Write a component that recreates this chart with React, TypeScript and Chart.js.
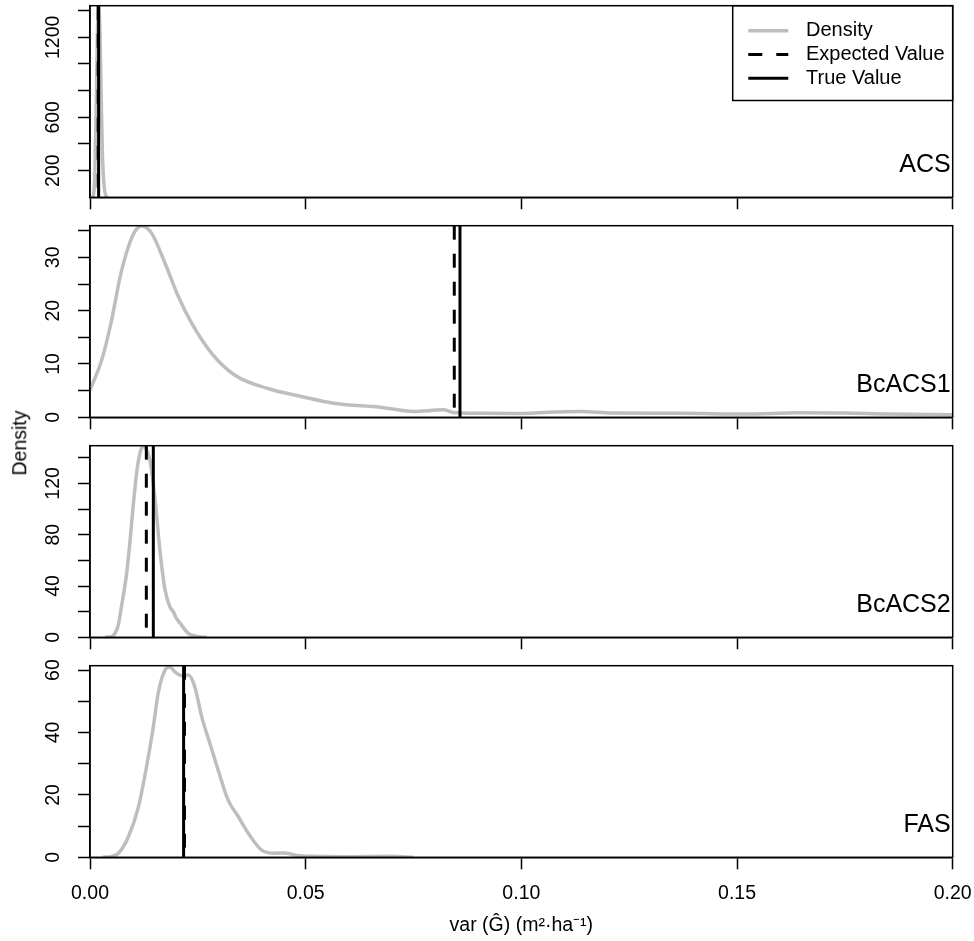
import React, { useEffect, useRef } from 'react';
import { Chart, registerables } from 'chart.js';

Chart.register(...registerables);

const FONT = '"Liberation Sans", Arial, Helvetica, sans-serif';
const TICK_SIZE = 19.5;
const LEGEND_SIZE = 20;
const PANEL_LABEL_SIZE = 25;

// ---------- data ----------
const panelNames = ['ACS', 'BcACS1', 'BcACS2', 'FAS'];
const legendLabels = ['Density', 'Expected Value', 'True Value'];
const xMin = 0;
const xMax = 0.2;
const xTickValues = [0, 0.05, 0.1, 0.15, 0.2];
const xTitle = 'var (Ĝ) (m²·ha⁻¹)';
const yTitle = 'Density';

const acsX = [0.0005, 0.0008, 0.0011, 0.0014, 0.0017, 0.0020, 0.0023, 0.0026, 0.0029, 0.0033, 0.0037, 0.0042];
const acsY = [0, 20, 150, 600, 1200, 1437, 1250, 750, 300, 80, 10, 0];

const bcacs1X = [0.0000, 0.0027, 0.0050, 0.0070, 0.0089, 0.0105, 0.0120, 0.0143, 0.0174, 0.0205, 0.0236, 0.0282, 0.0336, 0.0413, 0.0490, 0.0568, 0.0672, 0.0750, 0.0819, 0.0842, 0.0904, 0.0980, 0.1080, 0.1140, 0.1210, 0.1370, 0.1520, 0.1640, 0.1750, 0.1850, 0.2000];
const bcacs1Y = [5.1, 10.7, 18.2, 26.4, 32.0, 35.0, 35.9, 34.5, 28.9, 22.6, 17.6, 12.0, 7.9, 5.4, 3.9, 2.6, 1.9, 1.1, 1.4, 0.9, 0.75, 0.7, 1.0, 1.1, 0.8, 0.75, 0.6, 0.85, 0.8, 0.6, 0.5];

const bcacs2X = [0.0035, 0.0050, 0.0058, 0.0066, 0.0073, 0.0085, 0.0093, 0.0100, 0.0108, 0.0116, 0.0124, 0.0130, 0.0139, 0.0151, 0.0162, 0.0174, 0.0185, 0.0193, 0.0200, 0.0209, 0.0228, 0.0251, 0.0270];
const bcacs2Y = [0, 0.5, 3, 10, 24, 50, 76, 102, 128, 144, 149, 147, 138, 107, 68, 37, 24, 20, 15, 11, 3, 0.5, 0];

const fasX = [0.0030, 0.0050, 0.0066, 0.0089, 0.0112, 0.0131, 0.0147, 0.0158, 0.0174, 0.0185, 0.0197, 0.0213, 0.0228, 0.0243, 0.0259, 0.0278, 0.0297, 0.0320, 0.0344, 0.0367, 0.0398, 0.0429, 0.0450, 0.0480, 0.0520, 0.0600, 0.0700, 0.0750];
const fasY = [0, 0.3, 1.3, 6.6, 16, 29, 42, 52.5, 60, 61, 59.4, 58.2, 58.4, 54.6, 45, 36.5, 28, 18.4, 13, 7.7, 2.3, 1.3, 1.4, 0.6, 0.3, 0.2, 0.3, 0];

const densityX = [acsX, bcacs1X, bcacs2X, fasX];
const densityY = [acsY, bcacs1Y, bcacs2Y, fasY];

const expectedValues = [0.0019, 0.08445, 0.01306, 0.0219];
const trueValues = [0.0020, 0.08577, 0.01468, 0.0217];

const yMaxes = [1437, 35.94, 149.4, 61.4];
const acsYTicks = [200, 400, 600, 800, 1000, 1200, 1400];
const bcacs1YTicks = [0, 5, 10, 15, 20, 25, 30, 35];
const bcacs2YTicks = [0, 20, 40, 60, 80, 100, 120, 140];
const fasYTicks = [0, 10, 20, 30, 40, 50, 60];
const yTickValues = [acsYTicks, bcacs1YTicks, bcacs2YTicks, fasYTicks];
const yLabelled = [[200, 600, 1200], [0, 10, 20, 30], [0, 40, 80, 120], [0, 20, 40, 60]];

// ---------- styling / layout ----------
const DENSITY_COLOR = '#bebebe';
const PANEL_STEP = 220;
const AREA_TOP = 5.7;
const AREA_BOTTOM = 197.3;
const AREA_LEFT = 90;
const AREA_RIGHT = 952.7;
const PAGE_W = 974;
const PAGE_H = 941;
const TICK_LEN = 12;
const LABEL_CENTER_X = 54;

const decorPlugin = {
  id: 'decor',
  afterDraw(chart: any, _args: any, opts: any) {
    const ctx = chart.ctx;
    const ca = chart.chartArea;
    ctx.save();
    ctx.strokeStyle = '#000';
    ctx.lineWidth = 1.5;
    ctx.setLineDash([]);
    ctx.strokeRect(ca.left, ca.top, ca.right - ca.left, ca.bottom - ca.top);
    ctx.fillStyle = '#000';
    ctx.font = `${PANEL_LABEL_SIZE}px ${FONT}`;
    ctx.textAlign = 'right';
    ctx.textBaseline = 'alphabetic';
    ctx.fillText(opts.label, ca.right - 2, ca.bottom - 25);
    if (opts.legend) {
      const boxLeft = ca.right - 220;
      const boxBottom = ca.top + 94.8;
      ctx.strokeRect(boxLeft, ca.top, ca.right - boxLeft, boxBottom - ca.top);
      chart.data.datasets.forEach((ds: any, i: number) => {
        const y = ca.top + 25 + i * 23.8;
        ctx.beginPath();
        ctx.strokeStyle = ds.borderColor;
        ctx.lineWidth = ds.borderWidth;
        ctx.setLineDash(ds.borderDash || []);
        ctx.moveTo(boxLeft + 15.6, y);
        ctx.lineTo(boxLeft + 55.6, y);
        ctx.stroke();
        ctx.setLineDash([]);
        ctx.fillStyle = '#000';
        ctx.font = `${LEGEND_SIZE}px ${FONT}`;
        ctx.textAlign = 'left';
        ctx.textBaseline = 'middle';
        ctx.fillText(ds.label, boxLeft + 73.3, y);
      });
    }
    ctx.restore();
  },
};

function measureWidest(labels: number[]): number {
  const c = document.createElement('canvas').getContext('2d')!;
  c.font = `${TICK_SIZE}px ${FONT}`;
  return Math.max(...labels.map((v) => c.measureText(String(v)).width));
}

function Panel({ index }: { index: number }) {
  const ref = useRef<HTMLCanvasElement>(null);
  const isLast = index === 3;
  const top = index * PANEL_STEP;
  const height = isLast ? PAGE_H - top : PANEL_STEP;

  useEffect(() => {
    const canvas = ref.current!;
    const ymax = yMaxes[index];
    const labelled = yLabelled[index];
    const widest = measureWidest(labelled);
    const yPad = AREA_LEFT - TICK_LEN - LABEL_CENTER_X - widest / 2;
    const xAxisHeight = height - AREA_BOTTOM - (isLast ? 0 : 2.7);

    const density = densityX[index].map((x, i) => ({ x, y: densityY[index][i] }));
    const ev = [{ x: expectedValues[index], y: ymax }, { x: expectedValues[index], y: 0 }];
    const tv = [{ x: trueValues[index], y: ymax }, { x: trueValues[index], y: 0 }];

    const chart = new Chart(canvas, {
      type: 'scatter',
      data: {
        datasets: [
          {
            label: legendLabels[0],
            data: density,
            showLine: true,
            borderColor: DENSITY_COLOR,
            backgroundColor: DENSITY_COLOR,
            borderWidth: 3.5,
            pointRadius: 0,
            cubicInterpolationMode: 'monotone',
            order: 3,
          } as any,
          {
            label: legendLabels[1],
            data: ev,
            showLine: true,
            borderColor: '#000',
            backgroundColor: '#000',
            borderWidth: 3,
            borderDash: [14, 14],
            pointRadius: 0,
            order: 2,
          } as any,
          {
            label: legendLabels[2],
            data: tv,
            showLine: true,
            borderColor: '#000',
            backgroundColor: '#000',
            borderWidth: 3,
            pointRadius: 0,
            order: 1,
          } as any,
        ],
      },
      options: {
        animation: false,
        responsive: false,
        devicePixelRatio: 1,
        layout: {
          padding: { left: 0, right: PAGE_W - AREA_RIGHT, top: AREA_TOP, bottom: isLast ? 0 : 2.7 },
        },
        plugins: {
          legend: { display: false },
          tooltip: { enabled: false },
          decor: { label: panelNames[index], legend: index === 0 },
        } as any,
        scales: {
          x: {
            type: 'linear',
            min: xMin,
            max: xMax,
            position: 'bottom',
            border: { display: true, color: '#000', width: 1.5 },
            grid: { drawOnChartArea: false, drawTicks: true, tickLength: TICK_LEN, tickColor: '#000', tickWidth: 1.5 },
            ticks: {
              color: '#000',
              padding: 13,
              maxRotation: 0,
              autoSkip: false,
              font: { size: TICK_SIZE, family: FONT },
              callback: (v: any) => (isLast ? Number(v).toFixed(2) : ''),
            },
            afterBuildTicks: (scale: any) => {
              scale.ticks = xTickValues.map((value) => ({ value }));
            },
            title: {
              display: isLast,
              text: xTitle,
              color: '#000',
              font: { size: TICK_SIZE, family: FONT },
              padding: { top: 0, bottom: 3.5 },
            },
            afterFit: (scale: any) => {
              scale.height = xAxisHeight;
              scale.paddingLeft = 0;
              scale.paddingRight = 0;
            },
          },
          y: {
            type: 'linear',
            min: 0,
            max: ymax,
            position: 'left',
            border: { display: true, color: '#000', width: 1.5 },
            grid: {
              drawOnChartArea: false,
              drawTicks: true,
              tickLength: TICK_LEN,
              tickWidth: 1.5,
              tickColor: '#000',
            },
            ticks: {
              autoSkip: false,
              minRotation: 90,
              maxRotation: 90,
              crossAlign: 'center',
              padding: yPad,
              color: '#000',
              font: { size: TICK_SIZE, family: FONT },
              callback: (v: any) => (labelled.indexOf(Number(v)) >= 0 ? String(v) : ''),
            },
            afterBuildTicks: (scale: any) => {
              scale.ticks = yTickValues[index].map((value) => ({ value }));
            },
            afterFit: (scale: any) => {
              scale.width = AREA_LEFT;
              scale.paddingTop = 0;
              scale.paddingBottom = 0;
            },
          },
        },
      } as any,
      plugins: [decorPlugin as any],
    });
    return () => chart.destroy();
  }, []);

  return (
    <canvas
      ref={ref}
      width={PAGE_W}
      height={height}
      style={{ position: 'absolute', left: 0, top, width: PAGE_W, height, display: 'block' }}
    />
  );
}

export default function App() {
  return (
    <div
      style={{
        position: 'absolute',
        left: 0,
        top: 0,
        width: PAGE_W,
        height: PAGE_H,
        overflow: 'hidden',
        background: '#fff',
      }}
    >
      {[0, 1, 2, 3].map((i) => (
        <Panel key={i} index={i} />
      ))}
      <div
        style={{
          position: 'absolute',
          left: 19.5,
          top: 442.5,
          transform: 'translate(-50%, -50%) rotate(-90deg)',
          fontFamily: FONT,
          fontSize: 19.5,
          lineHeight: 1,
          whiteSpace: 'nowrap',
          color: '#000',
        }}
      >
        {yTitle}
      </div>
    </div>
  );
}
